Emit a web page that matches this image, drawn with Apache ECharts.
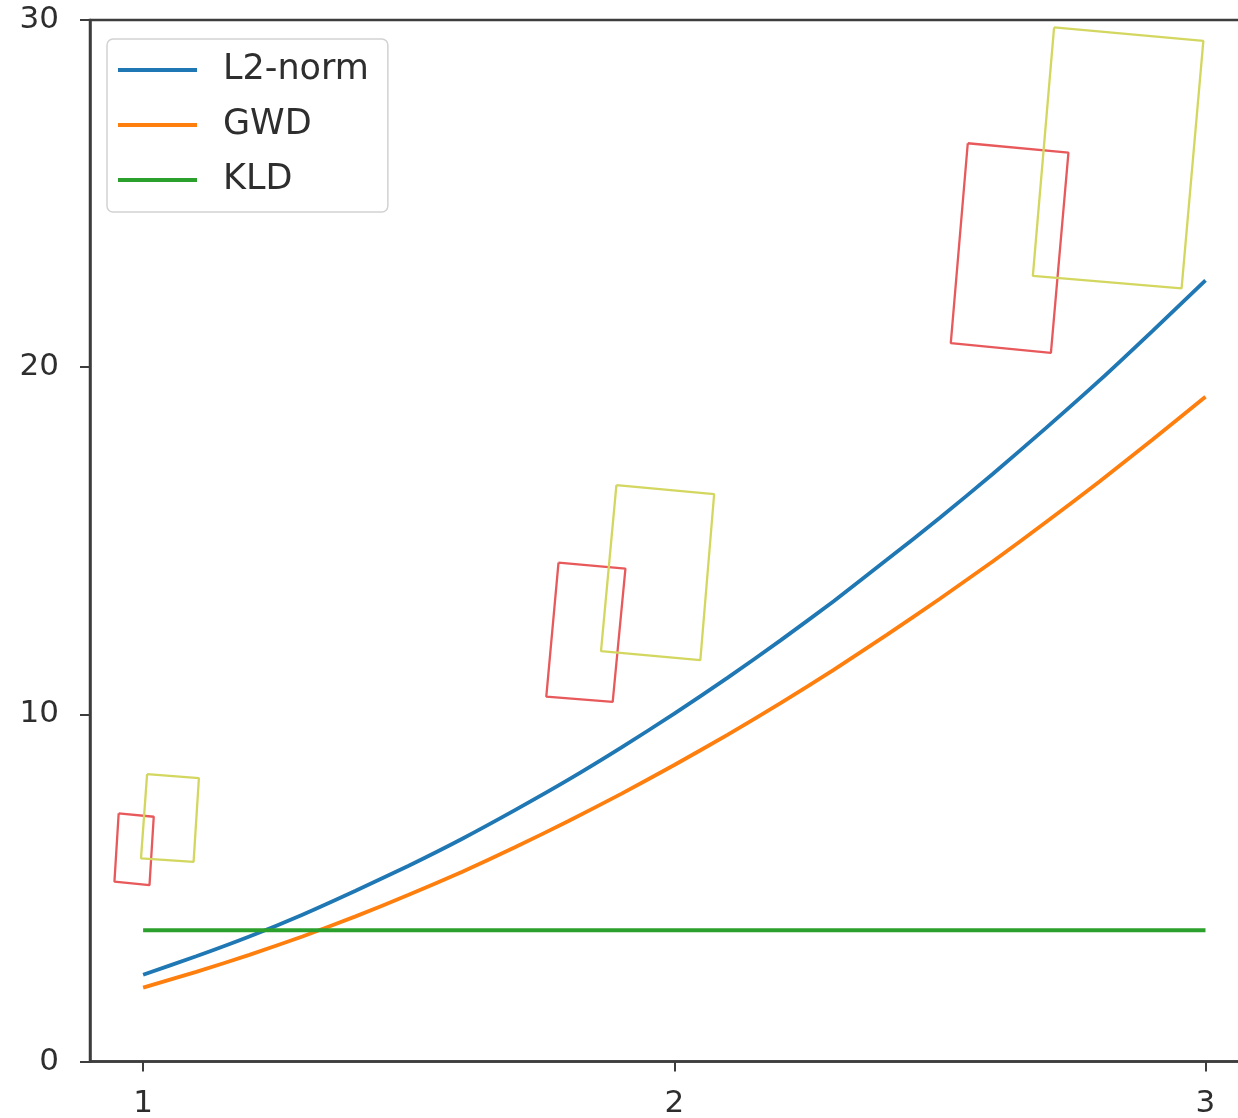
<!DOCTYPE html>
<html>
<head>
<meta charset="utf-8">
<script src="https://cdn.jsdelivr.net/npm/echarts@6/dist/echarts.min.js"></script>
<style>
  html, body { margin: 0; padding: 0; background: #ffffff; }
  #chart { width: 1238px; height: 1118px; }
</style>
</head>
<body>
<div id="chart"></div>
<script>
// ---- data ----
const xValues = [1.0, 1.1, 1.2, 1.3, 1.4, 1.5, 1.6, 1.7, 1.8, 1.9, 2.0, 2.1, 2.2, 2.3, 2.4, 2.5, 2.6, 2.7, 2.8, 2.9, 3.0];
const l2Norm  = [2.50, 3.03, 3.60, 4.23, 4.92, 5.64, 6.41, 7.24, 8.11, 9.04, 10.02, 11.05, 12.13, 13.26, 14.45, 15.66, 16.93, 18.25, 19.61, 21.04, 22.50];
const gwd     = [2.13, 2.58, 3.07, 3.60, 4.18, 4.80, 5.46, 6.17, 6.92, 7.71, 8.54, 9.41, 10.32, 11.28, 12.29, 13.33, 14.41, 15.54, 16.70, 17.91, 19.15];
const kldX    = [1.0, 3.0];
const kld     = [3.78, 3.78];

const seriesNames = ['L2-norm', 'GWD', 'KLD'];
const xTicks = [1, 2, 3];
const yTicks = [0, 10, 20, 30];

// rotated boxes, corners in data units
const redBox1    = [[0.954, 7.15], [1.020, 7.05], [1.012, 5.08], [0.946, 5.18]];
const yellowBox1 = [[1.0075, 8.28], [1.105, 8.16], [1.095, 5.75], [0.996, 5.85]];
const redBox2    = [[1.782, 14.37], [1.908, 14.20], [1.884, 10.36], [1.759, 10.51]];
const yellowBox2 = [[1.891, 16.60], [2.075, 16.34], [2.049, 11.56], [1.862, 11.82]];
const redBox3    = [[2.5525, 26.45], [2.742, 26.18], [2.709, 20.41], [2.5205, 20.69]];
const yellowBox3 = [[2.715, 29.79], [2.996, 29.40], [2.955, 22.27], [2.675, 22.63]];

// ---- build ----
const FONT = 'DejaVu Sans';
const SPINE = '#3d3d3d';
const TEXT = '#2e2e2e';
const colors = ['#1f77b4', '#ff7f0e', '#2ca02c'];
const RED = '#e8595b';
const YELLOW = '#d3d760';

function pairs(xs, ys) { return xs.map((x, i) => [x, ys[i]]); }
function closed(box) { return box.concat([box[0]]); }

function curve(name, data, color) {
  return {
    name: name, type: 'line', data: data, showSymbol: false, symbol: 'none',
    smooth: 0.2, lineStyle: { color: color, width: 3.8 }, itemStyle: { color: color },
    z: 3, silent: true, animation: false
  };
}
function box(data, color) {
  return {
    type: 'line', data: closed(data), showSymbol: false, symbol: 'none',
    lineStyle: { color: color, width: 2.3 }, itemStyle: { color: color },
    z: 2, silent: true, animation: false
  };
}

const chart = echarts.init(document.getElementById('chart'), null, { renderer: 'canvas' });
chart.setOption({
  backgroundColor: '#ffffff',
  animation: false,
  grid: {
    left: 90, top: 20, width: 1168.6, height: 1041.5,
    show: true, borderColor: SPINE, borderWidth: 2.5, backgroundColor: 'transparent',
    containLabel: false, outerBoundsMode: 'none'
  },
  legend: {
    data: seriesNames.map(n => ({ name: n, icon: 'rect' })),
    orient: 'vertical', left: 107, top: 39,
    itemWidth: 79, itemHeight: 4, itemGap: 19,
    padding: [13, 19, 14, 11],
    borderColor: '#d2d2d2', borderWidth: 1.5, borderRadius: 6,
    backgroundColor: 'rgba(255,255,255,0.8)',
    textStyle: { fontFamily: FONT, fontSize: 35, color: TEXT, lineHeight: 36, padding: [0, 0, 0, 21] },
    selectedMode: false
  },
  xAxis: {
    type: 'value', min: 0.9, max: 3.1,
    axisLine: { show: true, lineStyle: { color: SPINE, width: 2.5 } },
    axisTick: { show: true, customValues: xTicks, length: 10, lineStyle: { color: SPINE, width: 2 } },
    axisLabel: { customValues: xTicks, margin: 27, fontFamily: FONT, fontSize: 31, color: TEXT },
    splitLine: { show: false }
  },
  yAxis: {
    type: 'value', min: 0, max: 30, interval: 10,
    axisLine: { show: true, lineStyle: { color: SPINE, width: 2.5 } },
    axisTick: { show: true, length: 10, lineStyle: { color: SPINE, width: 2 } },
    axisLabel: { margin: 31, fontFamily: FONT, fontSize: 31, color: TEXT,
      formatter: v => yTicks.indexOf(v) >= 0 ? String(v) : '' },
    splitLine: { show: false }
  },
  series: [
    box(redBox1, RED), box(yellowBox1, YELLOW),
    box(redBox2, RED), box(yellowBox2, YELLOW),
    box(redBox3, RED), box(yellowBox3, YELLOW),
    curve(seriesNames[0], pairs(xValues, l2Norm), colors[0]),
    curve(seriesNames[1], pairs(xValues, gwd), colors[1]),
    curve(seriesNames[2], pairs(kldX, kld), colors[2])
  ]
});
</script>
</body>
</html>
